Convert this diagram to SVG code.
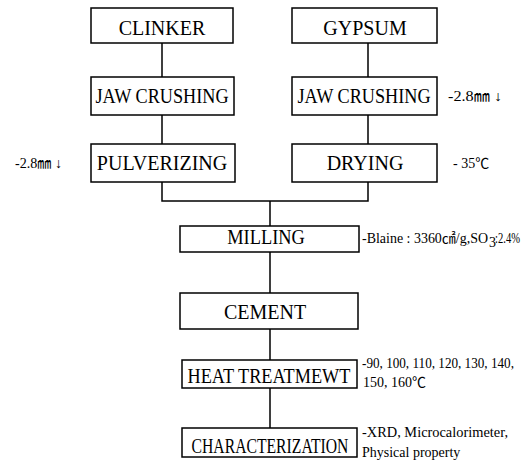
<svg xmlns="http://www.w3.org/2000/svg" width="530" height="466" viewBox="0 0 530 466">
<style>
.box{fill:#fff;stroke:#000;stroke-width:1.5}
.t{font-family:"Liberation Serif","Noto Serif CJK KR","Noto Sans CJK KR",serif;font-size:20px;fill:#000;text-anchor:middle}
.a{font-family:"Liberation Serif","Noto Sans CJK KR",serif;font-size:14px;fill:#000}
.c{fill:none;stroke:#000;stroke-width:1.5}
</style>
<rect width="530" height="466" fill="#fff"/>
<g id="connectors">
<path class="c" d="M162,43V77M162,115V144M368,43V77M368,115V144M162,182V201H368V182M270,201V226M270,252V293M270,329V360M270,388V428"/>
</g>
<g id="clinker"><rect class="box" x="91" y="8" width="142" height="35"/><text class="t" x="162" y="35">CLINKER</text></g>
<g id="gypsum"><rect class="box" x="292" y="8" width="145" height="35"/><text class="t" x="365" y="35">GYPSUM</text></g>
<g id="jaw1"><rect class="box" x="91" y="77" width="143" height="38"/><text class="t" transform="translate(162,103) scale(0.91,1)">JAW CRUSHING</text></g>
<g id="jaw2"><rect class="box" x="292" y="77" width="145" height="38"/><text class="t" transform="translate(364,103) scale(0.91,1)">JAW CRUSHING</text></g>
<g id="pulverizing"><rect class="box" x="91" y="144" width="144" height="38"/><text class="t" x="162" y="170">PULVERIZING</text></g>
<g id="drying"><rect class="box" x="292" y="144" width="145" height="38"/><text class="t" x="365" y="170">DRYING</text></g>
<g id="milling"><rect class="box" x="180" y="226" width="179" height="26"/><text class="t" transform="translate(266,244) scale(0.92,1)">MILLING</text></g>
<g id="cement"><rect class="box" x="180" y="293" width="178" height="36"/><text class="t" x="265" y="319">CEMENT</text></g>
<g id="heat"><rect class="box" x="182" y="360" width="175" height="28"/><text class="t" transform="translate(269,383) scale(0.913,1)">HEAT TREATMEWT</text></g>
<g id="char"><rect class="box" x="182" y="428" width="175" height="29"/><text class="t" transform="translate(270,453) scale(0.785,1)">CHARACTERIZATION</text></g>
<g id="notes">
<text class="a" x="448" y="101" textLength="54" lengthAdjust="spacingAndGlyphs">-2.8㎜ ↓</text>
<text class="a" x="15" y="168" textLength="47" lengthAdjust="spacingAndGlyphs">-2.8㎜ ↓</text>
<text class="a" x="453" y="168">- 35℃</text>
<text class="a" x="362" y="243" textLength="126" lengthAdjust="spacingAndGlyphs">-Blaine : 3360㎠/g,SO</text>
<text class="a" x="489" y="247" font-size="9">3</text>
<text class="a" x="495" y="243" textLength="25" lengthAdjust="spacingAndGlyphs">:2.4%</text>
<text class="a" x="362" y="368" textLength="152" lengthAdjust="spacingAndGlyphs">-90, 100, 110, 120, 130, 140,</text>
<text class="a" x="363" y="387">150, 160℃</text>
<text class="a" x="362" y="437" textLength="146" lengthAdjust="spacingAndGlyphs">-XRD, Microcalorimeter,</text>
<text class="a" x="362" y="457">Physical property</text>
</g>
</svg>
